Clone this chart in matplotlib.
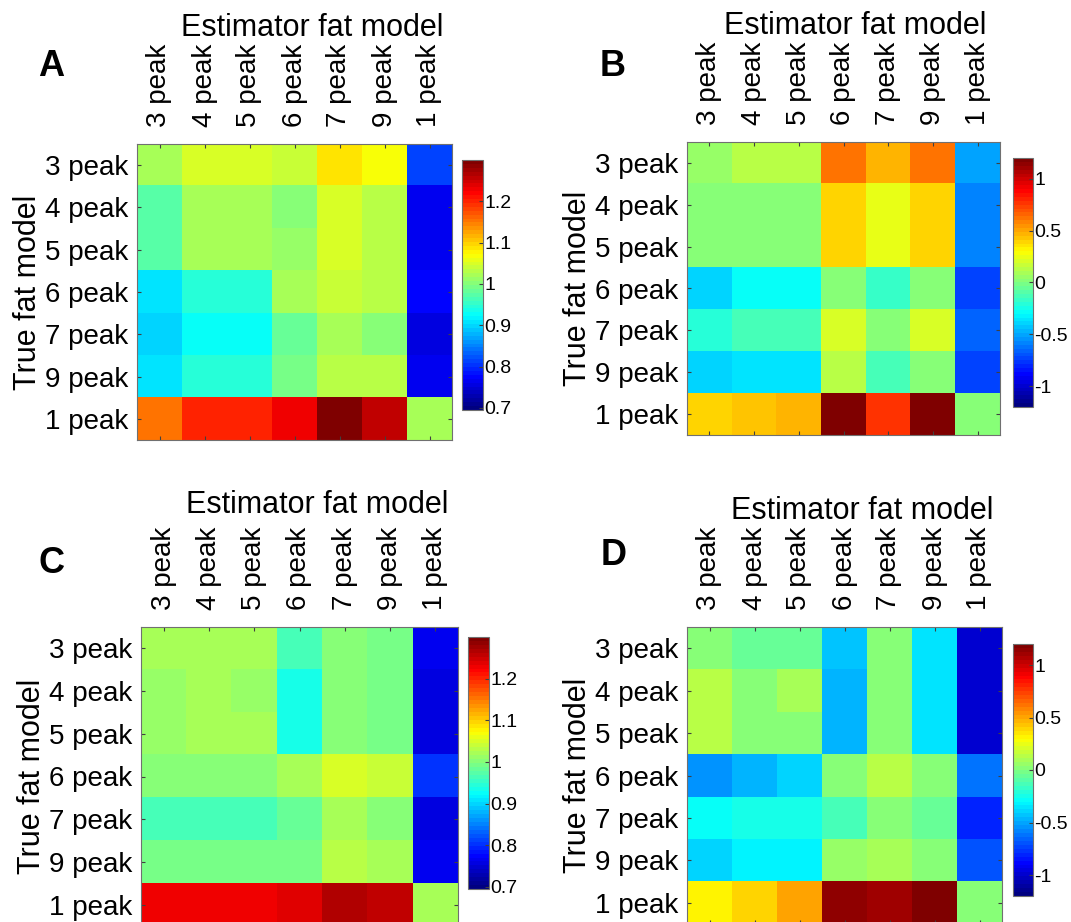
import numpy as np
import matplotlib
matplotlib.use('Agg')
import matplotlib.pyplot as plt
from matplotlib.colors import LinearSegmentedColormap

plt.rcParams['font.family'] = ['Liberation Sans', 'DejaVu Sans']

W, H = 1071, 922

# Data
models = ['3 peak', '4 peak', '5 peak', '6 peak', '7 peak', '9 peak', '1 peak']

vals_A = [[1.02, 1.05, 1.05, 1.04, 1.085, 1.07, 0.81],
          [0.97, 1.02, 1.02, 1.00, 1.05, 1.03, 0.77],
          [0.97, 1.02, 1.02, 1.01, 1.05, 1.03, 0.77],
          [0.91, 0.95, 0.95, 1.02, 1.04, 1.03, 0.78],
          [0.90, 0.93, 0.93, 0.98, 1.02, 1.00, 0.76],
          [0.91, 0.95, 0.95, 0.99, 1.03, 1.03, 0.77],
          [1.15, 1.20, 1.20, 1.23, 1.30, 1.26, 1.02]]

vals_B = [[0.05, 0.12, 0.12, 0.60, 0.48, 0.62, -0.50],
          [0.00, 0.02, 0.02, 0.38, 0.24, 0.41, -0.60],
          [0.00, 0.02, 0.02, 0.38, 0.24, 0.41, -0.57],
          [-0.41, -0.30, -0.27, 0.02, -0.17, 0.00, -0.72],
          [-0.22, -0.12, -0.12, 0.19, 0.02, 0.22, -0.67],
          [-0.41, -0.36, -0.36, 0.12, -0.14, 0.00, -0.72],
          [0.38, 0.43, 0.48, 1.20, 0.77, 1.20, 0.02]]

vals_C = [[1.02, 1.02, 1.02, 0.96, 1.00, 0.99, 0.77],
          [1.01, 1.02, 1.01, 0.94, 1.00, 0.99, 0.76],
          [1.01, 1.02, 1.02, 0.94, 1.00, 0.99, 0.76],
          [1.00, 1.00, 1.00, 1.02, 1.05, 1.04, 0.80],
          [0.96, 0.96, 0.96, 0.98, 1.02, 1.00, 0.76],
          [0.99, 0.99, 0.99, 0.99, 1.03, 1.02, 0.77],
          [1.225, 1.225, 1.225, 1.24, 1.27, 1.26, 1.02]]

vals_D = [[0.00, -0.05, -0.05, -0.45, 0.00, -0.35, -1.00],
          [0.14, 0.02, 0.10, -0.48, 0.00, -0.35, -1.00],
          [0.14, 0.02, 0.02, -0.48, 0.00, -0.35, -1.00],
          [-0.54, -0.48, -0.38, 0.02, 0.14, 0.00, -0.62],
          [-0.30, -0.26, -0.26, -0.12, 0.00, -0.07, -0.79],
          [-0.41, -0.31, -0.31, 0.07, 0.10, 0.00, -0.70],
          [0.31, 0.41, 0.49, 1.15, 1.10, 1.20, 0.02]]

ratio_ticks = [0.7, 0.8, 0.9, 1.0, 1.1, 1.2]
ratio_ticklabels = ['0.7', '0.8', '0.9', '1', '1.1', '1.2']
diff_ticks = [-1, -0.5, 0, 0.5, 1]
diff_ticklabels = ['-1', '-0.5', '0', '0.5', '1']


def box(l, t, r, b):
    # pixel box (left, top, right, bottom) -> figure fraction rect
    return [l / W, 1 - b / H, (r - l) / W, (b - t) / H]


# MATLAB style jet (64 levels)
jet_segs = {
    'red':   [(0, 0, 0), (0.375, 0, 0), (0.625, 1, 1), (0.875, 1, 1), (1, 0.5, 0.5)],
    'green': [(0, 0, 0), (0.125, 0, 0), (0.375, 1, 1), (0.625, 1, 1), (0.875, 0, 0), (1, 0, 0)],
    'blue':  [(0, 0.5, 0.5), (0.125, 1, 1), (0.375, 1, 1), (0.625, 0, 0), (1, 0, 0)],
}
cmap = LinearSegmentedColormap('mjet', jet_segs, N=64)

fig = plt.figure(figsize=(W / 100, H / 100), dpi=100)

panels = [
    ('A', vals_A, (137, 144, 452, 440), (462, 160, 483, 410), (0.695, 1.30),
     ratio_ticks, ratio_ticklabels, (38, 76), (312, 36)),
    ('B', vals_B, (687, 142, 1000, 435), (1013, 158, 1033, 407), (-1.2, 1.2),
     diff_ticks, diff_ticklabels, (600, 76), (855, 34)),
    ('C', vals_C, (141, 627, 458, 926), (468, 637, 489, 889), (0.695, 1.30),
     ratio_ticks, ratio_ticklabels, (38, 573), (317, 513)),
    ('D', vals_D, (687, 627, 1002, 924), (1013, 644, 1033, 896), (-1.2, 1.2),
     diff_ticks, diff_ticklabels, (601, 565), (862, 519)),
]

for (lab, vals, axbox, cbbox, lims, cticks, ctlabels, labpos, titpos) in panels:
    ax = fig.add_axes(box(*axbox))
    im = ax.imshow(np.array(vals), cmap=cmap, vmin=lims[0], vmax=lims[1],
                   aspect='auto', interpolation='nearest')
    ax.set_xticks(range(len(models)))
    ax.set_yticks(range(len(models)))
    ax.set_xticklabels(models, rotation=90, fontsize=20)
    ax.set_yticklabels(models, fontsize=20)
    ax.tick_params(direction='in', length=3, width=0.8, color='#404040',
                   top=True, bottom=True, left=True, right=True,
                   labeltop=True, labelbottom=False, pad=6)
    ax.tick_params(axis='x', pad=12)
    for s in ax.spines.values():
        s.set_color('#707070')
        s.set_linewidth(0.8)
    ax.set_ylabel('True fat model', fontsize=22, labelpad=2)

    cax = fig.add_axes(box(*cbbox))
    cb = fig.colorbar(im, cax=cax)
    cb.set_ticks(cticks)
    cb.set_ticklabels(ctlabels)
    cax.tick_params(labelsize=14, direction='in', length=3, width=0.8,
                    color='#404040', pad=1)
    cb.outline.set_edgecolor('#707070')
    cb.outline.set_linewidth(0.8)

    fig.text(labpos[0] / W, 1 - labpos[1] / H, lab, fontsize=26,
             fontweight='bold', ha='left', va='baseline')
    fig.text(titpos[0] / W, 1 - titpos[1] / H, 'Estimator fat model',
             fontsize=22, ha='center', va='baseline')

fig.savefig('out.png', dpi=100)
